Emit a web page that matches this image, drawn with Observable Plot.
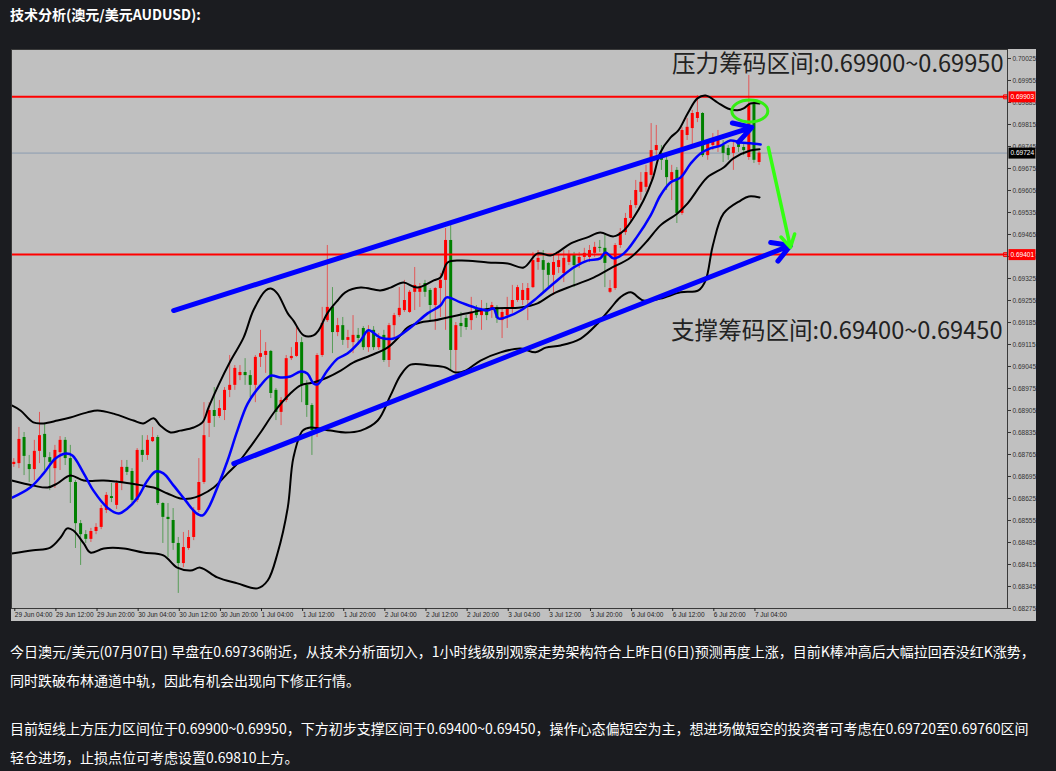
<!DOCTYPE html>
<html><head><meta charset="utf-8">
<script src="https://cdn.jsdelivr.net/npm/d3@7"></script>
<script src="https://cdn.jsdelivr.net/npm/@observablehq/plot@0.6"></script>
<style>
html,body{margin:0;padding:0;}
body{background:#1b1c20;width:1056px;height:771px;overflow:hidden;position:relative;font-family:"Noto Sans CJK SC","Noto Sans",sans-serif;}
#title{position:absolute;left:10px;top:4px;color:#fff;font-weight:bold;font-size:14px;line-height:20px;white-space:nowrap;}
#chart{position:absolute;left:11px;top:49px;}
.para{position:absolute;left:10px;color:#fff;font-size:14px;line-height:29px;white-space:nowrap;}
</style></head><body>
<div id="title">技术分析(澳元/美元AUDUSD):</div>
<div id="chart"></div>
<div class="para" style="top:637px">今日澳元/美元(07月07日) 早盘在0.69736附近，从技术分析面切入，1小时线级别观察走势架构符合上昨日(6日)预测再度上涨，目前K棒冲高后大幅拉回吞没红K涨势，<br>同时跌破布林通道中轨，因此有机会出现向下修正行情。</div>
<div class="para" style="top:714px">目前短线上方压力区间位于0.69900~0.69950，下方初步支撑区间于0.69400~0.69450，操作心态偏短空为主，想进场做短空的投资者可考虑在0.69720至0.69760区间<br>轻仓进场，止损点位可考虑设置0.69810上方。</div>
<script>
// ---- Candles (1-hour bars, index 0 = 29 Jun 04:00) ----
const open = [.68733,.68736,.68819,.68733,.68717,.68775,.68829,.68755,.68720,.68771,
.68810,.68752,.68676,.68545,.68510,.68495,.68520,.68533,.68587,.68631,
.68603,.68673,.68724,.68711,.68619,.68778,.68762,.68806,.68819,.68609,
.68565,.68555,.68482,.68418,.68466,.68501,.68587,.68676,.68864,.68905,
.68886,.68905,.68969,.68985,.69016,.69026,.69016,.68985,.69074,.69080,
.69093,.68969,.68899,.68937,.69070,.69077,.69121,.68985,.68921,.68841,
.69080,.69191,.69233,.69153,.69175,.69128,.69121,.69144,.69166,.69105,
.69160,.69105,.69144,.69064,.69175,.69207,.69223,.69217,.69281,.69281,
.69309,.69287,.69239,.69293,.69319,.69446,.69096,.69182,.69198,.69191,
.69230,.69207,.69223,.69223,.69233,.69191,.69207,.69230,.69255,.69255,
.69255,.69296,.69376,.69382,.69373,.69335,.69360,.69341,.69376,.69398,
.69373,.69392,.69392,.69405,.69424,.69421,.69281,.69293,.69430,.69471,
.69516,.69557,.69599,.69615,.69653,.69732,.69723,.69701,.69637,.69669,
.69532,.69780,.69802,.69834,.69850,.69716,.69748,.69742,.69748,.69739,
.69723,.69751,.69742,.69710,.69882,.69694];
const high = [.68752,.68851,.68835,.68762,.68810,.68899,.68864,.68771,.68794,.68822,
.68819,.68794,.68682,.68555,.68523,.68530,.68545,.68603,.68644,.68673,
.68682,.68746,.68746,.68720,.68784,.68825,.68825,.68851,.68825,.68612,
.68609,.68593,.68501,.68517,.68523,.68596,.68752,.68930,.68930,.68978,
.68937,.68978,.69080,.69048,.69048,.69070,.69032,.69080,.69160,.69121,
.69096,.68975,.68946,.69080,.69105,.69169,.69137,.69000,.68927,.69086,
.69233,.69430,.69296,.69198,.69201,.69160,.69207,.69166,.69172,.69175,
.69172,.69150,.69160,.69182,.69214,.69296,.69319,.69287,.69360,.69309,
.69319,.69293,.69296,.69341,.69484,.69494,.69185,.69217,.69207,.69265,
.69239,.69255,.69246,.69249,.69239,.69230,.69265,.69303,.69303,.69309,
.69309,.69408,.69414,.69414,.69376,.69398,.69408,.69414,.69414,.69408,
.69408,.69421,.69430,.69440,.69446,.69468,.69319,.69436,.69484,.69532,
.69573,.69637,.69662,.69685,.69818,.69812,.69748,.69716,.69685,.69678,
.69806,.69834,.69860,.69907,.69853,.69764,.69786,.69796,.69764,.69748,
.69764,.69764,.69751,.69971,.69891,.69729];
const low = [.68724,.68720,.68698,.68676,.68682,.68736,.68714,.68650,.68657,.68714,
.68730,.68609,.68466,.68412,.68482,.68485,.68510,.68526,.68577,.68612,
.68590,.68650,.68698,.68609,.68612,.68740,.68746,.68803,.68603,.68482,
.68437,.68460,.68323,.68405,.68460,.68491,.68580,.68670,.68819,.68851,
.68880,.68873,.68946,.68969,.69000,.68985,.68946,.68930,.69042,.69023,
.68943,.68873,.68857,.68930,.69064,.69074,.68930,.68883,.68762,.68819,
.69074,.69185,.69086,.69140,.69112,.69102,.69086,.69112,.69096,.69090,
.69096,.69096,.69058,.69042,.69137,.69201,.69217,.69214,.69223,.69233,
.69265,.69191,.69160,.69201,.69160,.69032,.69026,.69137,.69160,.69160,
.69198,.69160,.69191,.69198,.69182,.69134,.69166,.69214,.69249,.69239,
.69191,.69293,.69351,.69277,.69296,.69271,.69341,.69312,.69366,.69296,
.69357,.69376,.69376,.69392,.69408,.69296,.69277,.69287,.69421,.69462,
.69500,.69548,.69573,.69599,.69637,.69701,.69669,.69605,.69573,.69500,
.69526,.69764,.69742,.69821,.69710,.69701,.69732,.69726,.69694,.69701,
.69669,.69726,.69716,.69701,.69691,.69685];
const close = [.68740,.68813,.68759,.68717,.68775,.68825,.68755,.68740,.68778,.68810,
.68752,.68676,.68545,.68510,.68495,.68520,.68533,.68593,.68635,.68625,
.68673,.68724,.68708,.68619,.68778,.68762,.68810,.68819,.68609,.68565,
.68558,.68482,.68418,.68469,.68501,.68587,.68676,.68825,.68905,.68886,
.68911,.68969,.68985,.69039,.69026,.69016,.68985,.69074,.69086,.69093,
.68959,.68899,.68937,.69070,.69077,.69121,.68985,.68921,.68841,.69080,
.69182,.69233,.69153,.69175,.69128,.69137,.69144,.69134,.69105,.69153,
.69105,.69134,.69064,.69175,.69207,.69230,.69255,.69281,.69303,.69296,
.69281,.69239,.69293,.69319,.69446,.69096,.69175,.69172,.69169,.69214,
.69207,.69223,.69207,.69239,.69198,.69217,.69230,.69255,.69296,.69287,
.69293,.69382,.69389,.69351,.69335,.69376,.69382,.69389,.69398,.69366,
.69392,.69405,.69414,.69424,.69421,.69373,.69293,.69430,.69471,.69516,
.69557,.69605,.69631,.69662,.69732,.69748,.69701,.69646,.69662,.69532,
.69796,.69806,.69850,.69853,.69716,.69755,.69764,.69774,.69723,.69716,
.69742,.69742,.69732,.69876,.69701,.69724];

// ---- Bollinger bands and moving average: [bar index, price] ----
const upperBand = [[-0.4,.68921],[1.3,.68905],[3.8,.68867],[5.8,.68864],[8.5,.68873],[11.0,.68883],[14.3,.68899],[16.3,.68905],[19.4,.68895],[23.3,.68873],[25.2,.68864],[27.2,.68880],[28.5,.68857],[30.5,.68835],[32.4,.68841],[35.0,.68851],[36.7,.68867],[37.9,.68915],[39.8,.68985],[42.2,.69064],[44.7,.69137],[46.6,.69223],[49.0,.69287],[50.0,.69293],[51.3,.69277],[53.3,.69214],[54.4,.69191],[56.4,.69144],[58.3,.69144],[59.3,.69160],[61.0,.69214],[63.0,.69255],[64.5,.69281],[67.5,.69296],[71.3,.69287],[73.3,.69296],[75.8,.69312],[78.5,.69296],[81.7,.69319],[83.0,.69328],[84.4,.69376],[86.9,.69382],[92.2,.69376],[96.1,.69373],[99.2,.69360],[101.9,.69405],[104.4,.69398],[105.8,.69408],[108.3,.69436],[111.6,.69456],[114.1,.69471],[116.7,.69459],[118.7,.69478],[120.6,.69519],[122.5,.69573],[124.3,.69643],[125.8,.69726],[127.8,.69774],[129.3,.69796],[131.1,.69850],[133.0,.69898],[134.6,.69907],[136.9,.69885],[138.9,.69866],[140.8,.69860],[142.0,.69866],[143.3,.69882],[145.1,.69882]];
const middleBand = [[-0.4,.68682],[3.8,.68666],[6.6,.68660],[8.5,.68673],[11.0,.68698],[13.6,.68682],[17.5,.68682],[21.4,.68676],[25.2,.68666],[27.2,.68660],[29.9,.68641],[32.4,.68625],[34.4,.68625],[36.3,.68635],[38.9,.68660],[41.6,.68705],[43.5,.68736],[45.5,.68778],[48.0,.68835],[50.9,.68905],[53.8,.68959],[55.8,.68985],[58.3,.68994],[61.0,.69010],[63.6,.69032],[66.1,.69058],[69.4,.69080],[72.7,.69105],[75.2,.69144],[76.6,.69169],[79.1,.69185],[81.7,.69191],[84.4,.69201],[88.9,.69217],[93.3,.69230],[98.6,.69233],[101.9,.69246],[105.0,.69277],[108.9,.69303],[112.8,.69328],[116.1,.69357],[120.0,.69392],[123.3,.69446],[125.8,.69494],[129.1,.69532],[131.1,.69564],[134.9,.69646],[138.1,.69678],[140.0,.69707],[143.3,.69732],[145.1,.69736]];
const lowerBand = [[-0.4,.68450],[3.8,.68460],[7.1,.68469],[9.1,.68501],[10.4,.68530],[11.6,.68523],[13.6,.68482],[14.9,.68453],[17.5,.68466],[21.4,.68466],[25.2,.68453],[29.1,.68444],[31.8,.68405],[34.4,.68396],[36.3,.68405],[39.6,.68374],[43.5,.68355],[47.4,.68339],[49.4,.68364],[51.3,.68450],[53.3,.68596],[54.4,.68755],[56.2,.68841],[57.7,.68851],[61.6,.68841],[64.5,.68835],[67.5,.68841],[70.8,.68873],[73.3,.68953],[75.2,.69016],[77.2,.69051],[81.1,.69048],[84.0,.69042],[85.9,.69026],[87.9,.69032],[90.8,.69064],[94.7,.69090],[98.6,.69102],[101.5,.69090],[103.5,.69105],[106.4,.69112],[110.3,.69134],[113.6,.69182],[116.1,.69230],[118.0,.69265],[120.0,.69281],[122.5,.69255],[125.8,.69261],[129.7,.69281],[133.2,.69287],[134.6,.69319],[136.0,.69430],[138.1,.69532],[141.4,.69573],[143.0,.69586],[145.1,.69583]];
const movingAvg = [[-0.3,.68628],[3.2,.68660],[5.8,.68705],[8.1,.68752],[10.1,.68768],[11.4,.68762],[13.6,.68705],[15.5,.68650],[18.2,.68596],[20.4,.68577],[22.1,.68593],[24.1,.68628],[26.0,.68682],[27.6,.68711],[29.1,.68705],[31.1,.68666],[33.4,.68619],[35.4,.68580],[36.7,.68571],[37.9,.68596],[39.6,.68660],[41.6,.68746],[43.5,.68841],[45.5,.68927],[48.0,.68985],[50.0,.69016],[51.9,.69010],[53.8,.69013],[55.8,.69029],[57.1,.69023],[58.3,.68991],[59.1,.68988],[61.0,.69032],[63.0,.69070],[64.9,.69086],[67.5,.69128],[69.0,.69160],[71.3,.69137],[73.9,.69134],[77.2,.69169],[80.5,.69214],[83.0,.69239],[84.2,.69265],[86.9,.69249],[90.2,.69230],[92.2,.69223],[93.3,.69230],[94.3,.69198],[96.1,.69204],[98.6,.69223],[101.9,.69265],[105.0,.69309],[108.9,.69360],[111.6,.69382],[114.1,.69389],[115.1,.69408],[116.7,.69389],[118.7,.69405],[121.3,.69459],[123.9,.69526],[125.8,.69589],[127.8,.69631],[129.7,.69646],[131.7,.69691],[133.6,.69723],[135.5,.69739],[137.5,.69748],[139.4,.69764],[141.4,.69758],[143.3,.69755],[145.3,.69751]];

// ---- Levels & annotations ----
const levelLines = [0.69903, 0.69401];
const currentPrice = 0.69724;
const trendArrows = [ {x1: 31.1, y1: 0.69223, x2: 143.6, y2: 0.69806},
                      {x1: 42.8, y1: 0.68736, x2: 151.1, y2: 0.69430} ];
const moveArrow = [ {x1: 146.8, y1: 0.69742, x2: 151.1, y2: 0.69424} ];
const highlight = [ {i: 143.2, v: 0.69858} ];
const zoneTexts = ["压力筹码区间:0.69900~0.69950", "支撑筹码区间:0.69400~0.69450"];

// ---- Axes ----
const yTicks = [0.70025,0.69955,0.69885,0.69815,0.69745,0.69675,0.69605,0.69535,0.69465,0.69395,0.69325,0.69255,0.69185,0.69115,0.69045,0.68975,0.68905,0.68835,0.68765,0.68695,0.68625,0.68555,0.68485,0.68415,0.68345,0.68275];
const xTickIdx = [0,8,16,24,32,40,48,56,64,72,80,88,96,104,112,120,128,136,144];
const xTickLabels = ["29 Jun 04:00","29 Jun 12:00","29 Jun 20:00","30 Jun 04:00","30 Jun 12:00","30 Jun 20:00","1 Jul 04:00","1 Jul 12:00","1 Jul 20:00","2 Jul 04:00","2 Jul 12:00","2 Jul 20:00","3 Jul 04:00","3 Jul 12:00","3 Jul 20:00","6 Jul 04:00","6 Jul 12:00","6 Jul 20:00","7 Jul 04:00"];

const candles = close.map((c, i) => ({i, o: open[i], h: high[i], l: low[i], c, col: c >= open[i] ? "#ff0000" : "#008000"}));
const pts = a => a.map(([i, v]) => ({i, v}));

const ellipseSymbol = {draw(ctx) {
  const rx = 18, ry = 11, k = 0.5523;
  ctx.moveTo(rx, 0);
  ctx.bezierCurveTo(rx, ry * k, rx * k, ry, 0, ry);
  ctx.bezierCurveTo(-rx * k, ry, -rx, ry * k, -rx, 0);
  ctx.bezierCurveTo(-rx, -ry * k, -rx * k, -ry, 0, -ry);
  ctx.bezierCurveTo(rx * k, -ry, rx, -ry * k, rx, 0);
  ctx.closePath();
}};
const tagSymbol = {draw(ctx) {
  ctx.moveTo(1, -5.5); ctx.lineTo(28, -5.5); ctx.lineTo(28, 5.5); ctx.lineTo(1, 5.5); ctx.closePath();
}};

const chart = Plot.plot({
  width: 1025, height: 572,
  marginLeft: 0, marginRight: 29, marginTop: 0, marginBottom: 13,
  style: {background: "#c0c0c0", fontFamily: "'Liberation Sans', Arial, sans-serif", fontSize: "6.5px", color: "#222", overflow: "visible"},
  x: {domain: [-0.447, 193.33], axis: null},
  y: {domain: [0.68275, 0.700536], axis: null},
  marks: [
    Plot.ruleY([currentPrice], {stroke: "#8a9bb0", strokeWidth: 1}),
    Plot.ruleX(candles, {x: "i", y1: "l", y2: "h", stroke: "col", strokeOpacity: 0.55, strokeWidth: 1}),
    Plot.ruleX(candles, {x: "i", y1: "o", y2: "c", stroke: "col", strokeWidth: 3}),
    Plot.ruleY(levelLines, {stroke: "#ff0000", strokeWidth: 2}),
    Plot.dot(levelLines, {y: d => d, frameAnchor: "right", dx: -2, symbol: "square", r: 2.2, stroke: "#ff0000", fill: "none", strokeWidth: 1}),
    Plot.line(pts(upperBand), {x: "i", y: "v", stroke: "#000", strokeWidth: 2, curve: "catmull-rom"}),
    Plot.line(pts(middleBand), {x: "i", y: "v", stroke: "#000", strokeWidth: 2, curve: "catmull-rom"}),
    Plot.line(pts(lowerBand), {x: "i", y: "v", stroke: "#000", strokeWidth: 2, curve: "catmull-rom"}),
    Plot.line(pts(movingAvg), {x: "i", y: "v", stroke: "#0000ff", strokeWidth: 2.5, curve: "catmull-rom"}),
    Plot.arrow(trendArrows, {x1: "x1", y1: "y1", x2: "x2", y2: "y2", stroke: "#0000ff", strokeWidth: 5, headLength: 6, headAngle: 60}),
    Plot.arrow(moveArrow, {x1: "x1", y1: "y1", x2: "x2", y2: "y2", stroke: "#33ff11", strokeWidth: 3.5, headLength: 6, headAngle: 60}),
    Plot.dot(highlight, {x: "i", y: "v", symbol: ellipseSymbol, stroke: "#33ee11", strokeWidth: 3, fill: "none"}),
    Plot.text([zoneTexts[0]], {text: d => d, frameAnchor: "top-right", dx: -4, dy: 15, lineAnchor: "middle", textAnchor: "end", fontSize: 23.6, fill: "#222", fontFamily: "'Noto Sans CJK SC', sans-serif"}),
    Plot.text([zoneTexts[1]], {text: d => d, frameAnchor: "top-right", dx: -5, dy: 282, lineAnchor: "middle", textAnchor: "end", fontSize: 23.6, fill: "#222", fontFamily: "'Noto Sans CJK SC', sans-serif"}),
    Plot.frame({stroke: "#3a3a3a", strokeWidth: 1}),
    Plot.axisY({anchor: "right", ticks: yTicks, tickFormat: d => d.toFixed(5), tickSize: 3, tickPadding: 2, fontSize: 6.5, fill: "#333", stroke: "#333"}),
    Plot.axisX({anchor: "bottom", ticks: xTickIdx, tickFormat: d => xTickLabels[xTickIdx.indexOf(d)], tickSize: 3, tickPadding: 1, textAnchor: "start", dx: 1, fontSize: 6.5, fill: "#222", stroke: "#222"}),
    Plot.dot(levelLines, {y: d => d, frameAnchor: "right", symbol: tagSymbol, fill: "#ff0000", stroke: null}),
    Plot.text(levelLines, {y: d => d, text: d => d.toFixed(5), frameAnchor: "right", dx: 3, textAnchor: "start", fill: "#fff", fontSize: 6.5}),
    Plot.dot([currentPrice], {y: d => d, frameAnchor: "right", symbol: tagSymbol, fill: "#000", stroke: null}),
    Plot.text([currentPrice], {y: d => d, text: d => d.toFixed(5), frameAnchor: "right", dx: 3, textAnchor: "start", fill: "#fff", fontSize: 6.5})
  ]
});
document.getElementById("chart").appendChild(chart);
</script>
</body></html>
